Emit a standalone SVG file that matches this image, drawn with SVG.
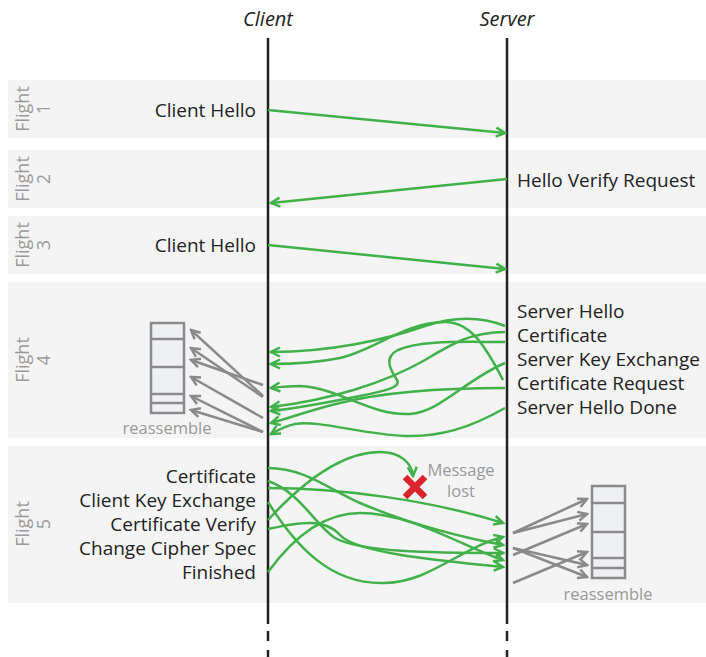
<svg xmlns="http://www.w3.org/2000/svg" width="706" height="657" viewBox="0 0 706 657">
<style>
.band{fill:#f4f4f4}
.lbl{font-family:"Open Sans","Noto Sans",sans-serif;font-size:19px;fill:#222}
.hdr{font-family:"Open Sans","Noto Sans",sans-serif;font-size:20px;font-style:italic;fill:#222}
.fl{font-family:"Open Sans","Noto Sans",sans-serif;font-size:18px;fill:#9a9a9a}
.gt{font-family:"Open Sans","Noto Sans",sans-serif;font-size:16.5px;fill:#9a9a9a}
.life{stroke:#222;stroke-width:2.5;fill:none}
.g{fill:none;stroke:#41b14a;stroke-width:2.5;marker-end:url(#ag)}
.gy{fill:none;stroke:#8a8a8a;stroke-width:2.5;marker-end:url(#ay)}
.box{fill:#eef0f3;stroke:#8a8a8a;stroke-width:2.5}
</style>
<defs>
<marker id="ag" viewBox="-11 -6 13 12" refX="0" refY="0" markerWidth="13" markerHeight="12" markerUnits="userSpaceOnUse" orient="auto"><path d="M-9,-4.5 L0,0 L-9,4.5" fill="none" stroke="#41b14a" stroke-width="2.5"/></marker>
<marker id="ay" viewBox="-11 -6 13 12" refX="0" refY="0" markerWidth="13" markerHeight="12" markerUnits="userSpaceOnUse" orient="auto"><path d="M-9,-4.5 L0,0 L-9,4.5" fill="none" stroke="#8a8a8a" stroke-width="2.5"/></marker>
</defs>
<rect width="706" height="657" fill="#fff"/>
<g id="bands">
<rect class="band" x="8" y="80" width="698" height="58"/>
<rect class="band" x="8" y="150" width="698" height="58"/>
<rect class="band" x="8" y="216" width="698" height="58"/>
<rect class="band" x="8" y="282" width="698" height="156"/>
<rect class="band" x="8" y="446" width="698" height="157"/>
</g>
<g id="flight-labels">
<text class="fl" transform="translate(29,109) rotate(-90)" text-anchor="middle">Flight<tspan x="0" dy="21">1</tspan></text>
<text class="fl" transform="translate(29,179) rotate(-90)" text-anchor="middle">Flight<tspan x="0" dy="21">2</tspan></text>
<text class="fl" transform="translate(29,245) rotate(-90)" text-anchor="middle">Flight<tspan x="0" dy="21">3</tspan></text>
<text class="fl" transform="translate(29,360) rotate(-90)" text-anchor="middle">Flight<tspan x="0" dy="21">4</tspan></text>
<text class="fl" transform="translate(29,524) rotate(-90)" text-anchor="middle">Flight<tspan x="0" dy="21">5</tspan></text>
</g>
<g id="client">
<text class="hdr" x="268" y="26" text-anchor="middle">Client</text>
<path class="life" d="M268,38 V624 M268,631 V641 M268,650 V657"/>
</g>
<g id="server">
<text class="hdr" x="507" y="26" text-anchor="middle">Server</text>
<path class="life" d="M507,38 V624 M507,631 V641 M507,650 V657"/>
</g>
<g id="client-messages" class="lbl" text-anchor="end">
<text x="256" y="117">Client Hello</text>
<text x="256" y="252">Client Hello</text>
<text x="256" y="483">Certificate</text>
<text x="256" y="507">Client Key Exchange</text>
<text x="256" y="531">Certificate Verify</text>
<text x="256" y="555">Change Cipher Spec</text>
<text x="256" y="579">Finished</text>
</g>
<g id="server-messages" class="lbl">
<text x="517" y="187">Hello Verify Request</text>
<text x="517" y="318">Server Hello</text>
<text x="517" y="342">Certificate</text>
<text x="517" y="366">Server Key Exchange</text>
<text x="517" y="390">Certificate Request</text>
<text x="517" y="414">Server Hello Done</text>
</g>
<g id="reassemble-client">
<rect class="box" x="151" y="323" width="33" height="90"/>
<path d="M151,339 H184 M151,367 H184 M151,394 H184 M151,403 H184" stroke="#8a8a8a" stroke-width="2.5"/>
<text class="gt" x="167" y="434" text-anchor="middle">reassemble</text>
</g>
<g id="reassemble-server">
<rect class="box" x="592" y="486" width="33" height="92"/>
<path d="M592,503 H625 M592,532 H625 M592,558 H625 M592,568 H625" stroke="#8a8a8a" stroke-width="2.5"/>
<text class="gt" x="608" y="600" text-anchor="middle">reassemble</text>
</g>
<g id="message-lost">
<path d="M405,477 L425,497 M425,477 L405,497" stroke="#d9252b" stroke-width="6.5"/>
<text class="gt" x="461" y="476" text-anchor="middle">Message</text>
<text class="gt" x="461" y="497" text-anchor="middle">lost</text>
</g>
<g id="connectors">
<path class="g" d="M268,110 L505,133"/>
<path class="g" d="M507,179 L271,203"/>
<path class="g" d="M268,245 L505,269"/>
<path class="g" d="M505,326 C480,316 455,316 425,326 C385,340 330,352 271,352"/>
<path class="g" d="M503,380 C485,345 470,322 445,322 C405,322 375,350 340,358 C315,363 295,364 271,364"/>
<path class="g" d="M505,332 C470,332 450,345 425,360 C385,383 330,400 271,407"/>
<path class="g" d="M505,342 C460,342 420,340 398,350 C382,358 392,372 397,380 C402,388 380,392 360,396 C330,402 300,408 271,411"/>
<path class="g" d="M505,363 C465,380 440,412 410,414 C370,416 340,388 300,386 C290,386 280,387 271,388"/>
<path class="g" d="M505,388 C440,388 380,393 340,403 C310,410 290,418 271,423"/>
<path class="g" d="M505,408 C470,428 440,437 405,436 C360,434 320,420 295,424 C285,426 278,430 271,434"/>
<path class="g" d="M268,520 C300,485 340,452 380,452 C400,452 412,463 413,476"/>
<path class="g" d="M268,468 C305,468 330,490 360,503 C400,520 450,535 503,545"/>
<path class="g" d="M268,481 C300,492 315,525 335,538 C360,552 430,553 503,553"/>
<path class="g" d="M268,488 C340,488 430,500 503,523"/>
<path class="g" d="M268,502 C295,545 330,585 385,583 C430,582 460,548 503,537"/>
<path class="g" d="M268,529 C300,522 325,518 340,535 C355,552 430,560 503,567"/>
<path class="g" d="M268,572 C295,535 325,513 360,513 C410,513 460,545 503,560"/>
<path class="gy" d="M263,396 L191,330"/>
<path class="gy" d="M263,397 L191,348"/>
<path class="gy" d="M263,385 L191,360"/>
<path class="gy" d="M263,418 L191,377"/>
<path class="gy" d="M263,432 L191,396"/>
<path class="gy" d="M263,432 L191,410"/>
<path class="gy" d="M513,533 L587,499"/>
<path class="gy" d="M513,533 L587,514"/>
<path class="gy" d="M513,555 L587,524"/>
<path class="gy" d="M513,548 L587,565"/>
<path class="gy" d="M513,548 L587,577"/>
<path class="gy" d="M513,583 L587,552"/>
</g>
</svg>
